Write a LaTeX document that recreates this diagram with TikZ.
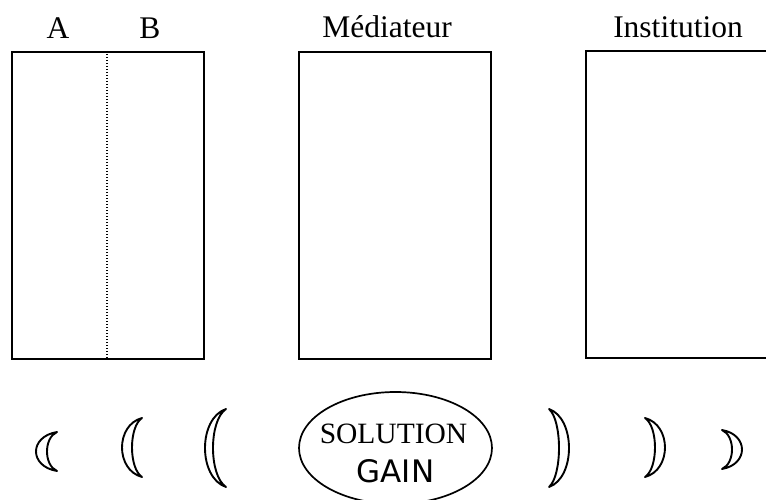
\documentclass[tikz,border=0pt]{standalone}
\usepackage{fontspec}
\setmainfont{Liberation Serif}
\newfontfamily\gainfont{DejaVu Sans}
\begin{document}
\begin{tikzpicture}[x=1pt,y=-1pt,
  box/.style={draw,line width=1.8pt},
  lbl/.style={anchor=base,inner sep=0pt,font=\fontsize{31.5}{36}\selectfont},
  crescent/.style={draw,line width=1.9pt,line join=round},
  divider/.style={line width=1.1pt,dash pattern=on 1pt off 2pt}]
\useasboundingbox (0,0) rectangle (766,500);
% boxes
\node[box,minimum width=192pt,minimum height=307pt,inner sep=0pt,anchor=north west] (ab) at (11,51) {};
\node[box,minimum width=192pt,minimum height=307pt,inner sep=0pt,anchor=north west] (med) at (298,51) {};
\coordinate (instTR) at (767,51);
\coordinate (instTL) at (586,51);
\coordinate (instBL) at (586,358);
\coordinate (instBR) at (767,358);
\draw[line width=1.8pt] (instTR) -- (instTL) -- (instBL) -- (instBR);
\coordinate (divT) at (107,51);
\coordinate (divB) at (107,358);
\draw[divider] (divT) -- (divB);
% labels
\node[lbl] (la) at (58,39) {A};
\node[lbl] (lb) at (150,39) {B};
\node[lbl] (lm) at (387,38) {Médiateur};
\node[lbl] (li) at (678,38) {Institution};
% ellipse
\draw[line width=1.7pt] (395.5,448) ellipse [x radius=96.5, y radius=56];
\node[anchor=base,inner sep=0pt,font=\fontsize{29.5}{34}\selectfont] (sol) at (393.5,443) {SOLUTION};
\node[anchor=base,inner sep=0pt,font=\gainfont\fontsize{31}{34}\selectfont] (gain) at (395.5,482) {GAIN};
% crescents: tip x, top y, bottom y, outer x, inner x
\newcommand\crescentdraw[5]{%
  \pgfmathsetmacro\cresco{#1+(#4-#1)/0.75}%
  \pgfmathsetmacro\cresci{#1+(#5-#1)/0.75}%
  \pgfmathsetmacro\cresa{#2+0.12*(#3-#2)}%
  \pgfmathsetmacro\cresb{#3-0.12*(#3-#2)}%
  \pgfmathsetmacro\cresc{#3-0.15*(#3-#2)}%
  \pgfmathsetmacro\cresd{#2+0.15*(#3-#2)}%
  \draw[crescent] (#1,#2) .. controls (\cresco,\cresa) and (\cresco,\cresb) .. (#1,#3)
     .. controls (\cresci,\cresc) and (\cresci,\cresd) .. cycle;}
\crescentdraw{57}{432}{471}{36}{47}
\crescentdraw{142}{418}{477}{122}{132}
\crescentdraw{226}{409}{487}{205}{213}
\crescentdraw{549}{409}{487}{569}{559}
\crescentdraw{645}{418}{477}{665}{655}
\crescentdraw{722}{430}{469}{742}{732}
\end{tikzpicture}
\end{document}
